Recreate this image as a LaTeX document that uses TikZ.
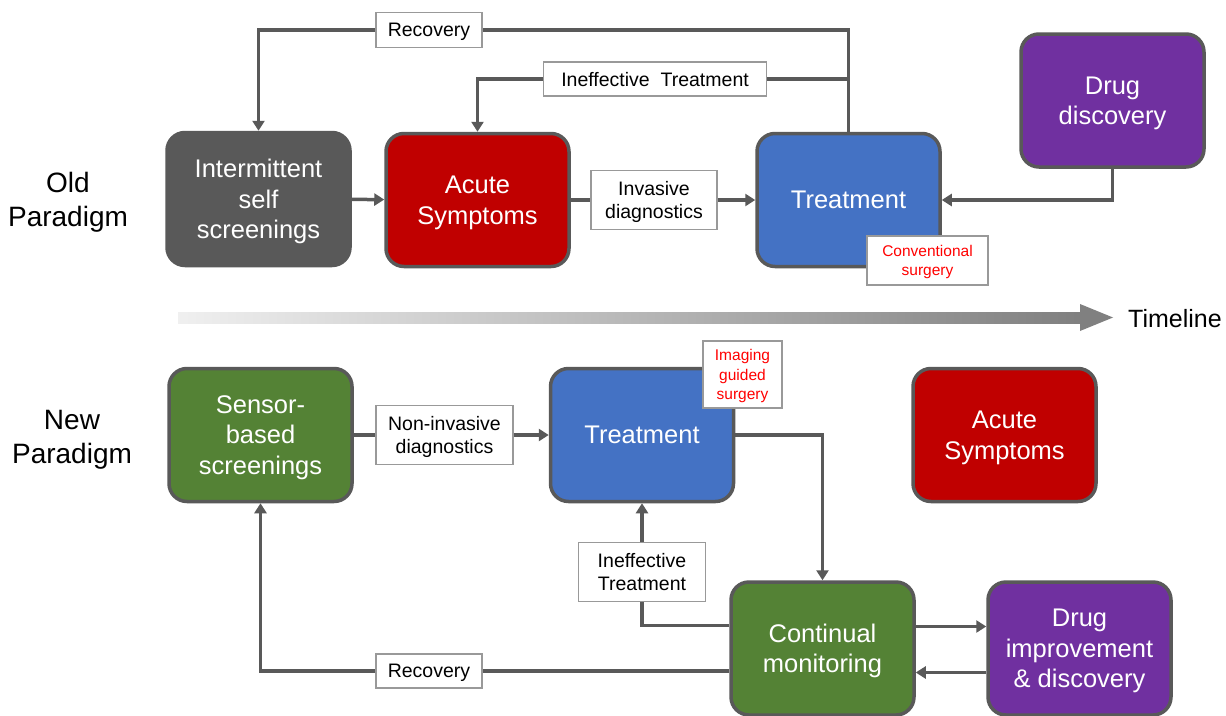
\documentclass[tikz,border=0pt]{standalone}
\usepackage{fontspec}
\setmainfont{Liberation Sans}
\usetikzlibrary{arrows.meta}
\definecolor{edge}{HTML}{595959}
\definecolor{slate}{HTML}{595959}
\definecolor{crimson}{HTML}{C00000}
\definecolor{azure}{HTML}{4472C4}
\definecolor{grape}{HTML}{7030A0}
\definecolor{leaf}{HTML}{548235}
\definecolor{alert}{HTML}{FF0000}

\begin{document}
\begin{tikzpicture}[x=1pt,y=-1pt,
  capcentre/.style={text depth=0pt},
  stage/.style={rounded corners=18pt, draw=edge, line width=3.5pt,
    minimum width=183pt, minimum height=133pt, inner sep=0pt, capcentre,
    text=white, align=center, font=\fontsize{25.5}{30.5}\selectfont},
  tag/.style={draw=black!40, line width=1.2pt, fill=white, inner sep=0pt, capcentre,
    align=center, font=\fontsize{19.5}{23}\selectfont},
  note/.style={tag, text=alert, font=\fontsize{15.5}{19.5}\selectfont},
  flow/.style={draw=edge, line width=3.5pt, -{Triangle[length=10pt,width=12pt]}},
  link/.style={draw=edge, line width=3.5pt},
  side/.style={align=center, capcentre, font=\fontsize{28}{34}\selectfont}
]
\useasboundingbox[fill=white] (0,0) rectangle (1226,715);

% ---------- row labels ----------
\node[side] (oldp) at (68,199) {Old\\Paradigm};
\node[side] (newp) at (72,437) {New\\Paradigm};

% ---------- old paradigm ----------
\node[stage, fill=slate, draw=slate] (int) at (258.5,199) {Intermittent\\self\\screenings};
\node[stage, fill=crimson] (acute1) at (477.5,200) {Acute\\Symptoms};
\node[stage, fill=azure] (treat1) at (848.5,200) {Treatment};
\node[stage, fill=grape] (drug1) at (1112.5,100.5) {Drug\\discovery};

\node[tag, minimum width=106pt, minimum height=35pt] (rec1) at (429,30) {Recovery};
\node[tag, minimum width=223pt, minimum height=34pt] (ine1) at (655,79) {Ineffective\ \ Treatment};
\node[tag, minimum width=126pt, minimum height=59pt] (inv) at (654,200) {Invasive\\diagnostics};

\draw[flow] (int) -- (acute1);
\draw[link] (acute1) -- (inv);
\draw[flow] (inv) -- (treat1);
\draw[link] (treat1.north) |- (rec1.east);
\draw[flow] (rec1.west) -| (int.north);
\draw[link] (ine1.east) -- (ine1.east -| treat1.north);
\draw[flow] (ine1.west) -| (acute1.north);
\draw[flow] (drug1.south) |- (treat1.east);

\node[note, minimum width=121pt, minimum height=49pt] (conv) at (927.5,260.5)
  {Conventional\\surgery};

% ---------- timeline ----------
\coordinate (tl1) at (1113,317.5);
\shade[left color=black!6, right color=black!50] (178,312) rectangle (1082,323);
\fill[black!50] (1080,304) -- (tl1) -- (1080,331) -- cycle;
\node[font=\fontsize{25}{30}\selectfont, capcentre] (tline) at (1175,318) {Timeline};

% ---------- new paradigm ----------
\node[stage, fill=leaf] (sensor) at (260.5,435) {Sensor-\\based\\screenings};
\node[stage, fill=azure] (treat2) at (642,435) {Treatment};
\node[stage, fill=crimson] (acute2) at (1004.5,435) {Acute\\Symptoms};
\node[stage, fill=leaf] (cont) at (822.5,648.5) {Continual\\monitoring};
\node[stage, fill=grape] (drug2) at (1079.5,648.5) {Drug\\improvement\\\& discovery};

\node[tag, minimum width=137pt, minimum height=59pt] (noninv) at (444.5,435) {Non-invasive\\diagnostics};
\node[tag, minimum width=127pt, minimum height=59pt] (ine2) at (642,572) {Ineffective\\Treatment};
\node[tag, minimum width=106pt, minimum height=34pt] (rec2) at (429,671) {Recovery};

\draw[link] (sensor) -- (noninv);
\draw[flow] (noninv) -- (treat2);
\draw[flow] (treat2.east) -| (cont.north);
\draw[link] ([yshift=23pt]cont.west) -| (ine2.south);
\draw[flow] (ine2.north) -- (treat2.south);
\draw[link] ([yshift=-22.5pt]cont.west) -- (rec2.east);
\draw[flow] (rec2.west) -| (sensor.south);
\draw[flow] ([yshift=22pt]cont.east) -- ([yshift=22pt]drug2.west);
\draw[flow] ([yshift=-24pt]drug2.west) -- ([yshift=-24pt]cont.east);

\node[note, minimum width=79pt, minimum height=67pt] (img) at (742.5,374.5)
  {Imaging\\guided\\surgery};
\end{tikzpicture}
\end{document}
